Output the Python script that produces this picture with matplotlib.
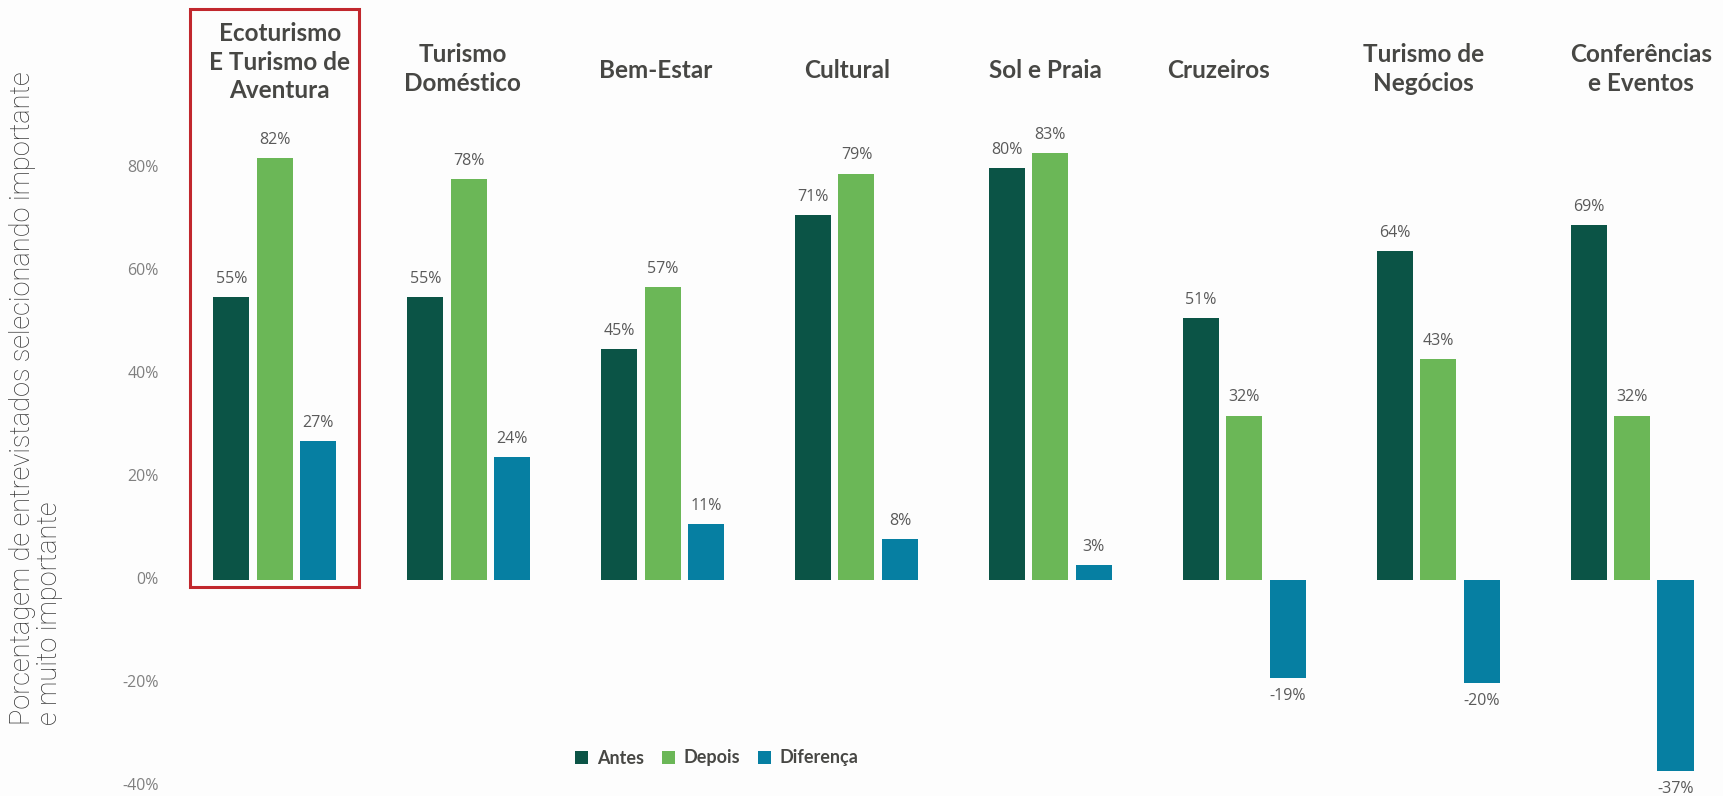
import matplotlib
matplotlib.use("Agg")
import matplotlib.pyplot as plt
from matplotlib.patches import Rectangle
import numpy as np

categories = ["Ecoturismo\nE Turismo de\nAventura", "Turismo\nDoméstico", "Bem-Estar",
              "Cultural", "Sol e Praia", "Cruzeiros", "Turismo de\nNegócios",
              "Conferências\ne Eventos"]
antes = [55, 55, 45, 71, 80, 51, 64, 69]
depois = [82, 78, 57, 79, 83, 32, 43, 32]
diferenca = [27, 24, 11, 8, 3, -19, -20, -37]
series_names = ["Antes", "Depois", "Diferença"]
yticks = [-40, -20, 0, 20, 40, 60, 80]
ylabel = "Porcentagem de entrevistados selecionando importante\ne muito importante"

colors = ["#0b5446", "#6bb757", "#067fa2"]
title_dx = [0.026, -0.031, -0.036, -0.046, -0.026, -0.134, -0.077, 0.046]
title_y = [1 - 62 / 796, 1 - 69 / 796, 1 - 71 / 796, 1 - 71 / 796, 1 - 71 / 796,
           1 - 71 / 796, 1 - 69 / 796, 1 - 69 / 796]

fig = plt.figure(figsize=(17.23, 7.96), dpi=100)
fig.patch.set_facecolor("#fdfdfd")
ax = fig.add_axes([0, 0, 1, 1])
ax.set_facecolor("#fdfdfd")
ax.axis("off")
ax.set_xlim(-1.417, 7.469)
ax.set_ylim(-41.9, 112.7)

x = np.arange(len(categories))
offs = [-0.224, 0.0, 0.224]
w = 0.186
handles = []
for vals, off, c, name in zip([antes, depois, diferenca], offs, colors, series_names):
    bars = ax.bar(x + off, vals, width=w, color=c, label=name)
    handles.append(bars)
    for xi, v in zip(x + off, vals):
        ax.annotate(f"{v}%", (xi, v), xytext=(0, 13 if v >= 0 else -13),
                    textcoords="offset points", ha="center", va="center",
                    fontsize=11.5, color="#5a5a5a", family="Open Sans")

for t in yticks:
    ax.text(-0.597, t, f"{t}%", ha="right", va="center", fontsize=11.5,
            color="#808080", family="Open Sans")

for xi, cat, dx, ty in zip(x, categories, title_dx, title_y):
    ax.text(xi + dx, ty, cat, transform=ax.get_xaxis_transform(),
            ha="center", va="center", fontsize=17.5, fontweight="bold",
            color="#474744", family="Lato", linespacing=1.3)

ax.add_patch(Rectangle((x[0] - 0.437, -1.3), 0.873, 112.2, fill=False,
                       edgecolor="#c1272d", linewidth=2.2, clip_on=False))

leg = fig.legend(handles=handles, labels=series_names, loc="center",
                 bbox_to_anchor=(717 / 1723, 1 - 758 / 796), ncol=3, frameon=False,
                 handlelength=0.7, handleheight=0.7, handletextpad=0.5,
                 columnspacing=1.0, prop={"family": "Lato", "weight": "bold", "size": 13})
for t in leg.get_texts():
    t.set_color("#474744")

fig.text(0.021, 0.5, ylabel, rotation=90, ha="center", va="center",
         multialignment="left", fontsize=19.5, color="#333333",
         family="Roboto", fontweight="light", linespacing=1.02)

fig.savefig("out.png", dpi=100, facecolor=fig.get_facecolor())
